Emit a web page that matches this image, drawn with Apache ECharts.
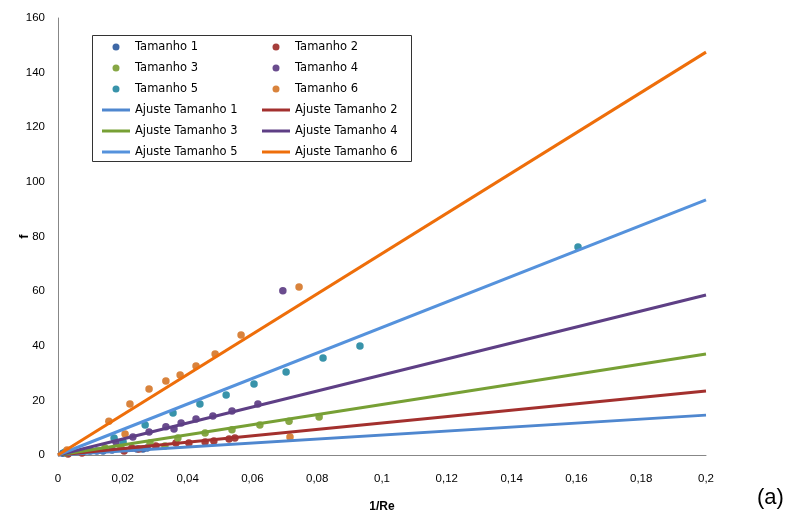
<!DOCTYPE html>
<html><head><meta charset="utf-8">
<script src="https://cdn.jsdelivr.net/npm/echarts@6/dist/echarts.min.js"></script>
<style>html,body{margin:0;padding:0;background:#fff}#c{width:793px;height:519px}</style>
</head><body><div id="c"></div>
<script>
// Scatter data [1/Re, f]
const t1 = [[0.0015,0.6],[0.0074,1.1],[0.0099,1.5],[0.0120,1.5],[0.0139,1.5],[0.0167,1.8],[0.0244,2.2],[0.0262,2.2],[0.0275,2.6]];
const t2 = [[0.0031,0.4],[0.0074,0.7],[0.0204,1.5],[0.0228,2.6],[0.0250,2.2],[0.0302,3.3],[0.0364,4.4],[0.0404,4.4],[0.0454,4.8],[0.0481,5.1],[0.0528,5.9],[0.0546,6.2]];
const t3 = [[0.0025,0.8],[0.0145,2.6],[0.0194,2.9],[0.0284,4.4],[0.0330,3.3],[0.0370,6.2],[0.0454,8.1],[0.0537,9.2],[0.0623,11.0],[0.0713,12.4],[0.0806,13.9]];
const t4 = [[0.0030,1.0],[0.0179,4.8],[0.0231,6.6],[0.0281,8.4],[0.0333,10.3],[0.0358,9.5],[0.0380,11.7],[0.0426,13.2],[0.0478,14.3],[0.0537,16.1],[0.0617,18.7],[0.0694,60.1]];
const t5 = [[0.0022,1.1],[0.0173,6.2],[0.0201,4.8],[0.0269,11.0],[0.0355,15.4],[0.0438,18.7],[0.0519,22.0],[0.0605,26.0],[0.0704,30.4],[0.0818,35.5],[0.0932,39.9],[0.1605,76.2]];
const t6 = [[0.0028,1.8],[0.0157,12.4],[0.0207,7.7],[0.0222,18.7],[0.0281,24.2],[0.0333,27.1],[0.0377,29.3],[0.0426,32.6],[0.0485,37.0],[0.0565,43.9],[0.0744,61.5],[0.0716,6.6]];
// Fit lines: f at 1/Re = 0 and 0.2
const fitX = [0, 0.2];
const fit1 = [0, 14.6];
const fit2 = [0, 23.4];
const fit3 = [0, 37.0];
const fit4 = [0, 58.6];
const fit5 = [0, 93.4];
const fit6 = [0, 147.5];
const xTicks = {min:0, max:0.2, interval:0.02};
const yTicks = {min:0, max:160, interval:20};

const dotColors = ['#3E68A6','#A63E3B','#87A745','#6A4C8E','#3893AA','#D9833C'];
const lineColors = ['#4F87CF','#A3302E','#77A035','#5E3F85','#5592DC','#EE6E0A'];
const dotNames = ['Tamanho 1','Tamanho 2','Tamanho 3','Tamanho 4','Tamanho 5','Tamanho 6'];
const lineNames = dotNames.map(n => 'Ajuste ' + n);
const dots = [t1,t2,t3,t4,t5,t6];
const fits = [fit1,fit2,fit3,fit4,fit5,fit6];

const series = [];
dots.forEach((d,i) => series.push({
  name: dotNames[i], type:'scatter', data:d, symbolSize:7.5,
  itemStyle:{color:dotColors[i], opacity:1}, z:2
}));
fits.forEach((f,i) => series.push({
  name: lineNames[i], type:'line', data: fitX.map((x,k)=>[x,f[k]]),
  symbol:'none', lineStyle:{color:lineColors[i], width:3}, itemStyle:{color:lineColors[i]}, z:3
}));

const lineIcon = 'path://M0,0h28v3h-28z';
const legendCommon = {
  orient:'vertical', itemWidth:28, itemHeight:7, itemGap:9,
  textStyle:{fontFamily:'DejaVu Sans', fontSize:11.5, color:'#000'},
  selectedMode:false
};
const legItem = n => n.startsWith('Ajuste') ? {name:n, icon:lineIcon} : {name:n, icon:'circle'};

const fmtX = v => parseFloat(v.toFixed(2)).toString().replace('.', ',');

const chart = echarts.init(document.getElementById('c'), null, {renderer:'canvas'});
chart.setOption({
  animation:false,
  backgroundColor:'#fff',
  grid:{left:58, top:18, width:648, height:437, containLabel:false, outerBoundsMode:'none'},
  xAxis:{
    type:'value', min:xTicks.min, max:xTicks.max, interval:xTicks.interval,
    name:'1/Re', nameLocation:'middle', nameGap:46,
    nameTextStyle:{fontFamily:'Liberation Sans', fontWeight:'bold', fontSize:12, color:'#000'},
    axisLine:{show:true, lineStyle:{color:'#878787', width:1}},
    axisTick:{show:false}, splitLine:{show:false},
    axisLabel:{formatter:fmtX, margin:18, fontFamily:'Liberation Sans', fontSize:11.5, color:'#000'}
  },
  yAxis:{
    type:'value', min:yTicks.min, max:yTicks.max, interval:yTicks.interval,
    name:'f', nameLocation:'middle', nameGap:27, nameMoveOverlap:false,
    nameTextStyle:{fontFamily:'Liberation Sans', fontWeight:'bold', fontSize:13, color:'#000'},
    axisLine:{show:true, lineStyle:{color:'#878787', width:1}},
    axisTick:{show:false}, splitLine:{show:false},
    axisLabel:{margin:13, fontFamily:'Liberation Sans', fontSize:11.5, color:'#000'}
  },
  legend:[
    Object.assign({left:97, top:36, data:[dotNames[0],dotNames[2],dotNames[4],lineNames[0],lineNames[2],lineNames[4]].map(legItem)}, legendCommon),
    Object.assign({left:257, top:36, data:[dotNames[1],dotNames[3],dotNames[5],lineNames[1],lineNames[3],lineNames[5]].map(legItem)}, legendCommon)
  ],
  graphic:[
    {type:'rect', shape:{x:92.5, y:35.5, width:319, height:126}, style:{fill:'#fff', stroke:'#333', lineWidth:1}, z:-1, silent:true},
    {type:'text', left:757, top:487, style:{text:'(a)', font:'22px "Liberation Sans"', fill:'#000'}}
  ],
  series: series
});
</script></body></html>
